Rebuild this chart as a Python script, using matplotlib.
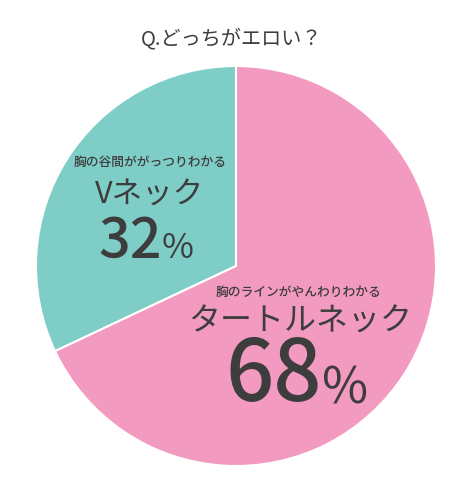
import matplotlib
matplotlib.use("Agg")
import matplotlib.pyplot as plt

plt.rcParams['font.family'] = ['Noto Sans CJK JP', 'DejaVu Sans']

# データ
labels = ['Vネック', 'タートルネック']
subtitles = ['胸の谷間ががっつりわかる', '胸のラインがやんわりわかる']
values = [32, 68]
colors = ['#7ecdc7', '#f39ac0']
text_color = '#3d3d3d'

W, H = 475, 500
fig = plt.figure(figsize=(W / 100, H / 100), dpi=100)
ax = fig.add_axes([0, 0, 1, 1])

# 円グラフ
ax.pie(values, colors=colors, startangle=90, counterclock=True,
       center=(236, H - 266), radius=200, frame=True,
       wedgeprops=dict(edgecolor='white', linewidth=1.5))
ax.set_xlim(0, W)
ax.set_ylim(0, H)
ax.axis('off')

# タイトル
ax.text(232, H - 39, 'Q.どっちがエロい？', ha='center', va='center',
        fontsize=14.5, color=text_color)

# Vネック
ax.text(150, H - 162, subtitles[0], ha='center', va='center', fontsize=9.2,
        color=text_color, weight='medium')
ax.text(150, H - 194, labels[0], ha='center', va='center', fontsize=22,
        color=text_color)
ax.text(162, H - 242, f'{values[0]}', ha='right', va='center', fontsize=40,
        color=text_color, weight='medium')
ax.text(162, H - 248, '%', ha='left', va='center', fontsize=25,
        color=text_color)

# タートルネック
ax.text(299, H - 292, subtitles[1], ha='center', va='center', fontsize=9.2,
        color=text_color, weight='medium')
ax.text(300, H - 322, labels[1], ha='center', va='center', fontsize=23,
        color=text_color)
ax.text(322, H - 377, f'{values[1]}', ha='right', va='center', fontsize=61,
        color=text_color, weight='medium')
ax.text(322, H - 389, '%', ha='left', va='center', fontsize=36,
        color=text_color)

fig.savefig('out.png', dpi=100)
